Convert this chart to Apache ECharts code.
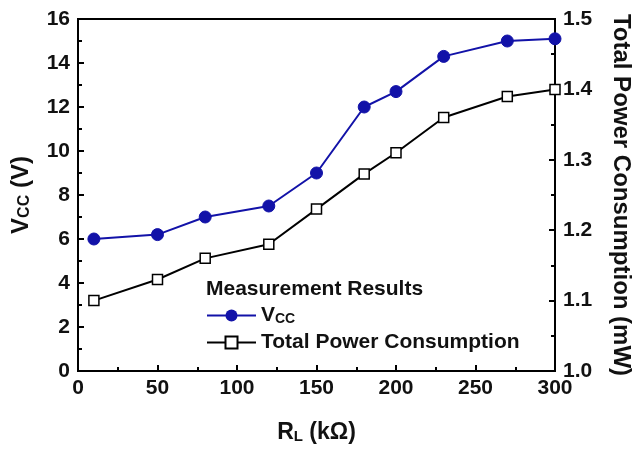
<!DOCTYPE html>
<html>
<head>
<meta charset="utf-8">
<script src="https://cdn.jsdelivr.net/npm/echarts@6/dist/echarts.min.js"></script>
<style>
  html, body { margin: 0; padding: 0; background: #fff; }
  #chart { width: 641px; height: 449px; }
</style>
</head>
<body>
<div id="chart"></div>
<script>
// Load resistance R_L (kΩ)
const loadResistance = [10, 50, 80, 120, 150, 180, 200, 230, 270, 300];
// Supply voltage Vcc (V)
const vccValues = [6.0, 6.2, 7.0, 7.5, 9.0, 12.0, 12.7, 14.3, 15.0, 15.1];
// Total power consumption (mW)
const powerValues = [1.10, 1.13, 1.16, 1.18, 1.23, 1.28, 1.31, 1.36, 1.39, 1.40];

const seriesNames = ['Vcc', 'Total Power Consumption'];
const legendTitle = 'Measurement Results';

const FONT = "'Liberation Sans', Arial, Helvetica, sans-serif";
const BLUE = '#1212a8';
const INK = '#111';

const labelStyle = { fontFamily: FONT, fontWeight: 'bold', fontSize: 21, color: INK };
const tickStyle = { inside: true, length: 6, lineStyle: { color: '#000', width: 2 } };
const minorStyle = { show: true, splitNumber: 2, length: 4, lineStyle: { color: '#000', width: 2 } };
const lineStyle = { lineStyle: { color: '#000', width: 2 } };

// rich styles for axis titles with subscripts
const xTitleRich = {
  a: { fontFamily: FONT, fontWeight: 'bold', fontSize: 23, color: INK },
  b: { fontFamily: FONT, fontWeight: 'bold', fontSize: 15, color: INK, padding: [8, 0, 0, 0] }
};
const yTitleRich = {
  a: { fontFamily: FONT, fontWeight: 'bold', fontSize: 24, color: INK },
  b: { fontFamily: FONT, fontWeight: 'bold', fontSize: 16, color: INK, padding: [8, 0, 0, 0] }
};

const chart = echarts.init(document.getElementById('chart'), null, { renderer: 'canvas' });

chart.setOption({
  backgroundColor: '#fff',
  animation: false,
  title: {
    text: legendTitle,
    left: 206,
    top: 279,
    padding: 0,
    textStyle: { fontFamily: FONT, fontWeight: 'bold', fontSize: 21, color: INK }
  },
  legend: {
    orient: 'vertical',
    left: 206,
    top: 305,
    padding: 0,
    itemWidth: 49,
    itemHeight: 15,
    itemGap: 6,
    data: seriesNames,
    formatter: name => name === 'Vcc' ? '{a|V}{b|CC}' : name,
    textStyle: {
      fontFamily: FONT, fontWeight: 'bold', fontSize: 21, color: INK,
      rich: {
        a: { fontFamily: FONT, fontWeight: 'bold', fontSize: 21, color: INK },
        b: { fontFamily: FONT, fontWeight: 'bold', fontSize: 14, color: INK, padding: [7, 0, 0, 0] }
      }
    }
  },
  grid: {
    left: 78, right: 84, top: 19, bottom: 72,
    show: true, borderColor: '#000', borderWidth: 2, backgroundColor: 'transparent'
  },
  xAxis: {
    type: 'value',
    min: 0, max: 300, interval: 50,
    axisLine: lineStyle,
    axisTick: tickStyle,
    minorTick: minorStyle,
    splitLine: { show: false },
    axisLabel: Object.assign({ margin: 7 }, labelStyle),
    name: '{a|R}{b|L}{a| (kΩ)}',
    nameLocation: 'middle',
    nameGap: 50,
    nameTextStyle: { rich: xTitleRich }
  },
  yAxis: [
    {
      type: 'value',
      position: 'left',
      min: 0, max: 16, interval: 2,
      axisLine: Object.assign({ show: true }, lineStyle),
      axisTick: tickStyle,
      minorTick: minorStyle,
      splitLine: { show: false },
      axisLabel: Object.assign({ margin: 8 }, labelStyle),
      name: '{a|V}{b|CC}{a| (V)}',
      nameLocation: 'middle',
      nameGap: 45,
      nameTextStyle: { rich: yTitleRich }
    },
    {
      type: 'value',
      position: 'right',
      min: 1.0, max: 1.5, interval: 0.1,
      axisLine: Object.assign({ show: true }, lineStyle),
      axisTick: tickStyle,
      minorTick: minorStyle,
      splitLine: { show: false },
      axisLabel: Object.assign({ margin: 8, formatter: v => v.toFixed(1) }, labelStyle),
      name: 'Total Power Consumption (mW)',
      nameLocation: 'middle',
      nameRotate: -90,
      nameGap: 54,
      nameTextStyle: { fontFamily: FONT, fontWeight: 'bold', fontSize: 24, color: INK }
    }
  ],
  series: [
    {
      name: seriesNames[0],
      type: 'line',
      yAxisIndex: 0,
      data: loadResistance.map((x, i) => [x, vccValues[i]]),
      symbol: 'circle',
      symbolSize: 12,
      lineStyle: { color: BLUE, width: 2 },
      itemStyle: { color: BLUE, borderColor: BLUE },
      z: 3
    },
    {
      name: seriesNames[1],
      type: 'line',
      yAxisIndex: 1,
      data: loadResistance.map((x, i) => [x, powerValues[i]]),
      symbol: 'rect',
      symbolSize: 10,
      showAllSymbol: true,
      lineStyle: { color: '#000', width: 2 },
      itemStyle: { color: '#fff', borderColor: '#000', borderWidth: 1.5 },
      z: 2
    }
  ]
});
</script>
</body>
</html>
